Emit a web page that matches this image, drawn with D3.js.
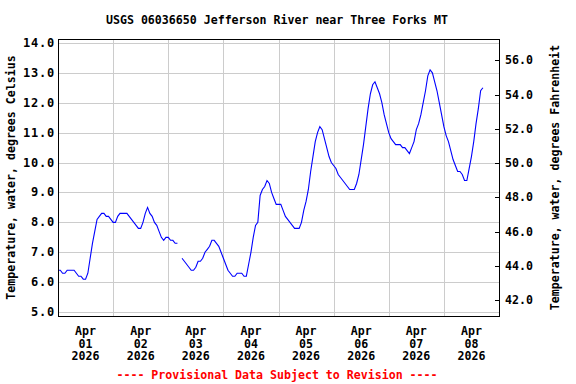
<!DOCTYPE html>
<html lang="en">

<head>
  <meta charset="UTF-8">
  <title>USGS 06036650 Jefferson River near Three Forks MT</title>
  <style>
    body { margin: 0; background: #fff; }
    text { font-family: "DejaVu Sans Mono", monospace; font-weight: bold; fill: #000; }
  </style>
</head>

<body>

  <script src="https://cdn.jsdelivr.net/npm/d3@7"></script>
  <script>

    let width = 576
    let height = 384
    let plotLeft = 58, plotRight = 499, plotTop = 39, plotBottom = 316

    // hourly water temperature (deg C) starting Apr 1 2026 00:00, null = gap
    let startTime = Date.UTC(2026, 3, 1)
    let apr01 = [6.4, 6.4, 6.3, 6.3, 6.4, 6.4, 6.4, 6.4, 6.3, 6.2, 6.2, 6.1, 6.1, 6.3, 6.8, 7.3, 7.7, 8.1, 8.2, 8.3, 8.3, 8.2, 8.2, 8.1]
    let apr02 = [8.0, 8.0, 8.2, 8.3, 8.3, 8.3, 8.3, 8.2, 8.1, 8.0, 7.9, 7.8, 7.8, 8.0, 8.3, 8.5, 8.3, 8.2, 8.0, 7.9, 7.7, 7.5, 7.4, 7.5]
    let apr03 = [7.5, 7.4, 7.4, 7.3, 7.3, null, 6.8, 6.7, 6.6, 6.5, 6.4, 6.4, 6.5, 6.7, 6.7, 6.8, 7.0, 7.1, 7.2, 7.4, 7.4, 7.3, 7.2, 7.0]
    let apr04 = [6.8, 6.6, 6.4, 6.3, 6.2, 6.2, 6.3, 6.3, 6.3, 6.2, 6.2, 6.6, 7.0, 7.5, 7.9, 8.0, 8.9, 9.1, 9.2, 9.4, 9.3, 9.0, 8.8, 8.6]
    let apr05 = [8.6, 8.6, 8.4, 8.2, 8.1, 8.0, 7.9, 7.8, 7.8, 7.8, 8.0, 8.4, 8.7, 9.1, 9.7, 10.2, 10.7, 11.0, 11.2, 11.1, 10.8, 10.5, 10.2, 10.0]
    let apr06 = [9.9, 9.8, 9.6, 9.5, 9.4, 9.3, 9.2, 9.1, 9.1, 9.1, 9.3, 9.6, 10.1, 10.6, 11.2, 11.8, 12.3, 12.6, 12.7, 12.5, 12.3, 12.0, 11.6, 11.3]
    let apr07 = [11.0, 10.8, 10.7, 10.6, 10.6, 10.6, 10.5, 10.5, 10.4, 10.3, 10.5, 10.7, 11.1, 11.3, 11.6, 12.0, 12.4, 12.9, 13.1, 13.0, 12.7, 12.4, 12.0, 11.6]
    let apr08 = [11.2, 10.9, 10.7, 10.4, 10.1, 9.9, 9.7, 9.7, 9.6, 9.4, 9.4, 9.8, 10.2, 10.7, 11.3, 11.8, 12.4, 12.5]

    let celsiusTicks = [5, 6, 7, 8, 9, 10, 11, 12, 13, 14]
    let fahrenheitTicks = [42, 44, 46, 48, 50, 52, 54, 56]
    let dayLabels = ['01', '02', '03', '04', '05', '06', '07', '08']
    let monthLabel = 'Apr'
    let yearLabel = '2026'

    let temps = [].concat(apr01, apr02, apr03, apr04, apr05, apr06, apr07, apr08)
    let data = temps.map((v, i) => ({ t: new Date(startTime + i * 3600e3), v: v }))

    let x = d3.scaleUtc()
      .domain([new Date(startTime), new Date(startTime + 8 * 864e5)])
      .range([plotLeft, plotRight])
    let y = d3.scaleLinear().domain([4.87, 14.13]).range([plotBottom, plotTop])
    let yF = d3.scaleLinear().domain([41.08, 57.25]).range([plotBottom, plotTop])

    let svg = d3.select('body')
      .append('svg')
      .attr('width', width)
      .attr('height', height)

    // grid
    let days = d3.range(1, 8).map(i => new Date(startTime + i * 864e5))
    svg.append('g')
      .selectAll('line')
      .data(celsiusTicks)
      .enter()
      .append('line')
      .attr('x1', plotLeft).attr('x2', plotRight)
      .attr('y1', d => Math.round(y(d)) + 0.5).attr('y2', d => Math.round(y(d)) + 0.5)
      .attr('stroke', '#cccccc')
    svg.append('g')
      .selectAll('line')
      .data(days)
      .enter()
      .append('line')
      .attr('x1', d => Math.round(x(d)) + 0.5).attr('x2', d => Math.round(x(d)) + 0.5)
      .attr('y1', plotTop).attr('y2', plotBottom)
      .attr('stroke', '#cccccc')

    // left axis labels
    svg.append('g')
      .selectAll('text')
      .data(celsiusTicks)
      .enter()
      .append('text')
      .attr('x', plotLeft - 3)
      .attr('y', d => y(d) + 4)
      .attr('text-anchor', 'end')
      .style('font-size', '12px')
      .style('letter-spacing', '0.8px')
      .text(d => d.toFixed(1))

    // right axis ticks and labels
    let rightAxis = svg.append('g')
    rightAxis.selectAll('line')
      .data(fahrenheitTicks)
      .enter()
      .append('line')
      .attr('x1', plotRight - 4).attr('x2', plotRight)
      .attr('y1', d => Math.round(yF(d)) + 0.5).attr('y2', d => Math.round(yF(d)) + 0.5)
      .attr('stroke', '#000')
    rightAxis.selectAll('text')
      .data(fahrenheitTicks)
      .enter()
      .append('text')
      .attr('x', plotRight + 6)
      .attr('y', d => yF(d) + 4)
      .style('font-size', '11.6px')
      .text(d => d.toFixed(1))

    // x labels at noon of each day
    let xLabels = svg.append('g')
      .selectAll('text')
      .data(dayLabels)
      .enter()
      .append('text')
      .attr('text-anchor', 'middle')
      .style('font-size', '11.6px')
      .attr('transform', (d, i) => 'translate(' + x(new Date(startTime + (i + 0.5) * 864e5)) + ',0)')
    xLabels.append('tspan').attr('x', 0).attr('y', 335).text(monthLabel)
    xLabels.append('tspan').attr('x', 0).attr('y', 347.5).text(d => d)
    xLabels.append('tspan').attr('x', 0).attr('y', 360).text(yearLabel)

    // data line
    let line = d3.line()
      .defined(d => d.v !== null)
      .x(d => x(d.t))
      .y(d => y(d.v))
    svg.append('path')
      .datum(data)
      .attr('d', line)
      .attr('fill', 'none')
      .attr('stroke', '#0000ff')
      .attr('stroke-width', 1.1)

    // frame
    svg.append('rect')
      .attr('x', plotLeft + 0.5).attr('y', plotTop + 0.5)
      .attr('width', plotRight - plotLeft).attr('height', plotBottom - plotTop)
      .attr('fill', 'none')
      .attr('stroke', '#000')

    // titles
    svg.append('text')
      .attr('x', 277).attr('y', 24)
      .attr('text-anchor', 'middle')
      .style('font-size', '11.6px')
      .text('USGS 06036650 Jefferson River near Three Forks MT')
    svg.append('text')
      .attr('transform', 'translate(15,' + (plotTop + plotBottom) / 2 + ') rotate(-90)')
      .attr('text-anchor', 'middle')
      .style('font-size', '11.6px')
      .text('Temperature, water, degrees Celsius')
    svg.append('text')
      .attr('transform', 'translate(559,' + (plotTop + plotBottom) / 2 + ') rotate(-90)')
      .attr('text-anchor', 'middle')
      .style('font-size', '11.6px')
      .text('Temperature, water, degrees Fahrenheit')
    svg.append('text')
      .attr('x', 277).attr('y', 379)
      .attr('text-anchor', 'middle')
      .style('font-size', '11.6px')
      .style('fill', '#ff0000')
      .text('---- Provisional Data Subject to Revision ----')
  </script>
</body>

</html>
